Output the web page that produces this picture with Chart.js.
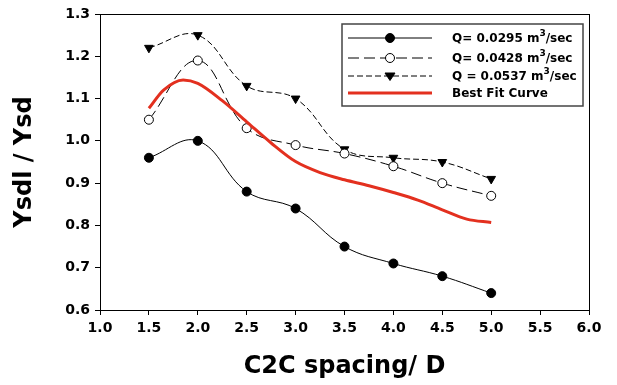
<!DOCTYPE html>
<html>
<head>
<meta charset="utf-8">
<script src="https://cdn.jsdelivr.net/npm/chart.js@4.4.1/dist/chart.umd.min.js"></script>
<style>
  html, body { margin: 0; padding: 0; background: #fff; }
  #wrap { width: 617px; height: 385px; }
</style>
</head>
<body>
<div id="wrap"><canvas id="chart"></canvas></div>
<script>
// data
const spacing = [1.5, 2.0, 2.5, 3.0, 3.5, 4.0, 4.5, 5.0];
const q0295 = [0.96, 1.00, 0.88, 0.84, 0.75, 0.71, 0.68, 0.64];
const q0428 = [1.05, 1.19, 1.03, 0.99, 0.97, 0.94, 0.90, 0.87];
const q0537 = [1.22, 1.25, 1.13, 1.10, 0.98, 0.96, 0.95, 0.91];
const fitX = [1.5, 1.65, 1.85, 2.0, 2.25, 2.5, 2.75, 3.0, 3.25, 3.5, 3.75, 4.0, 4.25, 4.5, 4.75, 5.0];
const fitY = [1.077, 1.12, 1.144, 1.136, 1.095, 1.045, 0.995, 0.951, 0.925, 0.908, 0.894, 0.878, 0.86, 0.837, 0.815, 0.807];
const labels = ['Q= 0.0295 m³/sec', 'Q= 0.0428 m³/sec', 'Q = 0.0537 m³/sec', 'Best Fit Curve'];
const xTitle = 'C2C spacing/ D';
const yTitle = 'Ysdl / Ysd';

const FONT = '"DejaVu Sans", "Liberation Sans", Arial, sans-serif';

function pts(xs, ys) {
    return xs.map((x, i) => ({ x: x, y: ys[i] }));
}

// box around the plot area
const frame = {
    id: 'frame',
    afterDraw(chart) {
        const a = chart.chartArea, ctx = chart.ctx;
        ctx.save();
        ctx.strokeStyle = '#000';
        ctx.lineWidth = 1;
        ctx.strokeRect(a.left + 0.5, a.top + 0.5, a.right - a.left, a.bottom - a.top);
        ctx.restore();
    }
};

// legend drawn inside the plot, upper right
const boxLegend = {
    id: 'boxLegend',
    afterDraw(chart) {
        const ctx = chart.ctx;
        const bx = 342, by = 24, bw = 241, bh = 82;
        ctx.save();
        ctx.fillStyle = '#fff';
        ctx.fillRect(bx, by, bw, bh);
        ctx.strokeStyle = '#444';
        ctx.lineWidth = 1.5;
        ctx.strokeRect(bx, by, bw, bh);
        const rows = [38, 58, 76, 93];
        const order = [1, 2, 3, 0];
        order.forEach((di, r) => {
            const ds = chart.data.datasets[di];
            const y = rows[r];
            ctx.strokeStyle = ds.borderColor;
            ctx.lineWidth = ds.borderWidth;
            ctx.setLineDash(ds.borderDash || []);
            ctx.beginPath();
            ctx.moveTo(348, y);
            ctx.lineTo(432, y);
            ctx.stroke();
            ctx.setLineDash([]);
            if (ds.pointRadius > 0) {
                ctx.fillStyle = ds.pointBackgroundColor;
                ctx.strokeStyle = ds.pointBorderColor;
                ctx.lineWidth = 1;
                ctx.beginPath();
                if (ds.pointStyle === 'triangle') {
                    const rr = ds.pointRadius;
                    ctx.moveTo(390 - rr, y - rr * 0.6);
                    ctx.lineTo(390 + rr, y - rr * 0.6);
                    ctx.lineTo(390, y + rr * 0.9);
                    ctx.closePath();
                } else {
                    ctx.arc(390, y, ds.pointRadius, 0, Math.PI * 2);
                }
                ctx.fill();
                ctx.stroke();
            }
            // text with superscript 3
            ctx.fillStyle = '#000';
            ctx.textBaseline = 'middle';
            ctx.textAlign = 'left';
            const parts = ds.label.split('³');
            let x = 452;
            ctx.font = 'bold 12px ' + FONT;
            ctx.fillText(parts[0], x, y + 1);
            if (parts.length > 1) {
                x += ctx.measureText(parts[0]).width;
                ctx.font = 'bold 9px ' + FONT;
                ctx.fillText('3', x, y - 4);
                x += ctx.measureText('3').width;
                ctx.font = 'bold 12px ' + FONT;
                ctx.fillText(parts[1], x, y + 1);
            }
        });
        ctx.restore();
    }
};

new Chart(document.getElementById('chart'), {
    type: 'line',
    data: {
        datasets: [
            {
                label: labels[3],
                data: pts(fitX, fitY),
                borderColor: '#e3301f',
                borderWidth: 3,
                pointRadius: 0,
                cubicInterpolationMode: 'monotone',
                fill: false
            },
            {
                label: labels[0],
                data: pts(spacing, q0295),
                borderColor: '#000',
                borderWidth: 1,
                tension: 0.4,
                pointStyle: 'circle',
                pointRadius: 4.5,
                pointBackgroundColor: '#000',
                pointBorderColor: '#000',
                fill: false
            },
            {
                label: labels[1],
                data: pts(spacing, q0428),
                borderColor: '#000',
                borderWidth: 1,
                borderDash: [11, 5],
                tension: 0.4,
                pointStyle: 'circle',
                pointRadius: 4.5,
                pointBackgroundColor: '#fff',
                pointBorderColor: '#000',
                fill: false
            },
            {
                label: labels[2],
                data: pts(spacing, q0537),
                borderColor: '#000',
                borderWidth: 1,
                borderDash: [6, 3],
                tension: 0.4,
                pointStyle: 'triangle',
                pointRotation: 180,
                pointRadius: 5,
                pointBackgroundColor: '#000',
                pointBorderColor: '#000',
                fill: false
            }
        ]
    },
    options: {
        responsive: true,
        maintainAspectRatio: false,
        animation: false,
        layout: { padding: { left: 0, right: 28, top: 14, bottom: 0 } },
        plugins: {
            legend: { display: false },
            tooltip: { enabled: false }
        },
        scales: {
            x: {
                type: 'linear',
                min: 1.0,
                max: 6.0,
                afterFit: s => { s.height = 75; },
                ticks: {
                    stepSize: 0.5,
                    color: '#000',
                    padding: 5,
                    font: { family: FONT, size: 14, weight: 'bold' },
                    callback: v => v.toFixed(1)
                },
                grid: { drawOnChartArea: false, drawTicks: true, tickLength: 5, color: '#000' },
                border: { display: true, color: '#000' },
                title: {
                    display: true,
                    text: xTitle,
                    color: '#000',
                    padding: { top: 6 },
                    font: { family: FONT, size: 24, weight: 'bold' }
                }
            },
            y: {
                min: 0.6,
                max: 1.3,
                afterFit: s => { s.width = 100; },
                ticks: {
                    stepSize: 0.1,
                    color: '#000',
                    padding: 5,
                    font: { family: FONT, size: 14, weight: 'bold' },
                    callback: v => v.toFixed(1)
                },
                grid: { drawOnChartArea: false, drawTicks: true, tickLength: 5, color: '#000' },
                border: { display: true, color: '#000' },
                title: {
                    display: true,
                    text: yTitle,
                    color: '#000',
                    padding: { top: 10, bottom: 0 },
                    font: { family: FONT, size: 24, weight: 'bold' }
                }
            }
        }
    },
    plugins: [frame, boxLegend]
});
</script>
</body>
</html>
